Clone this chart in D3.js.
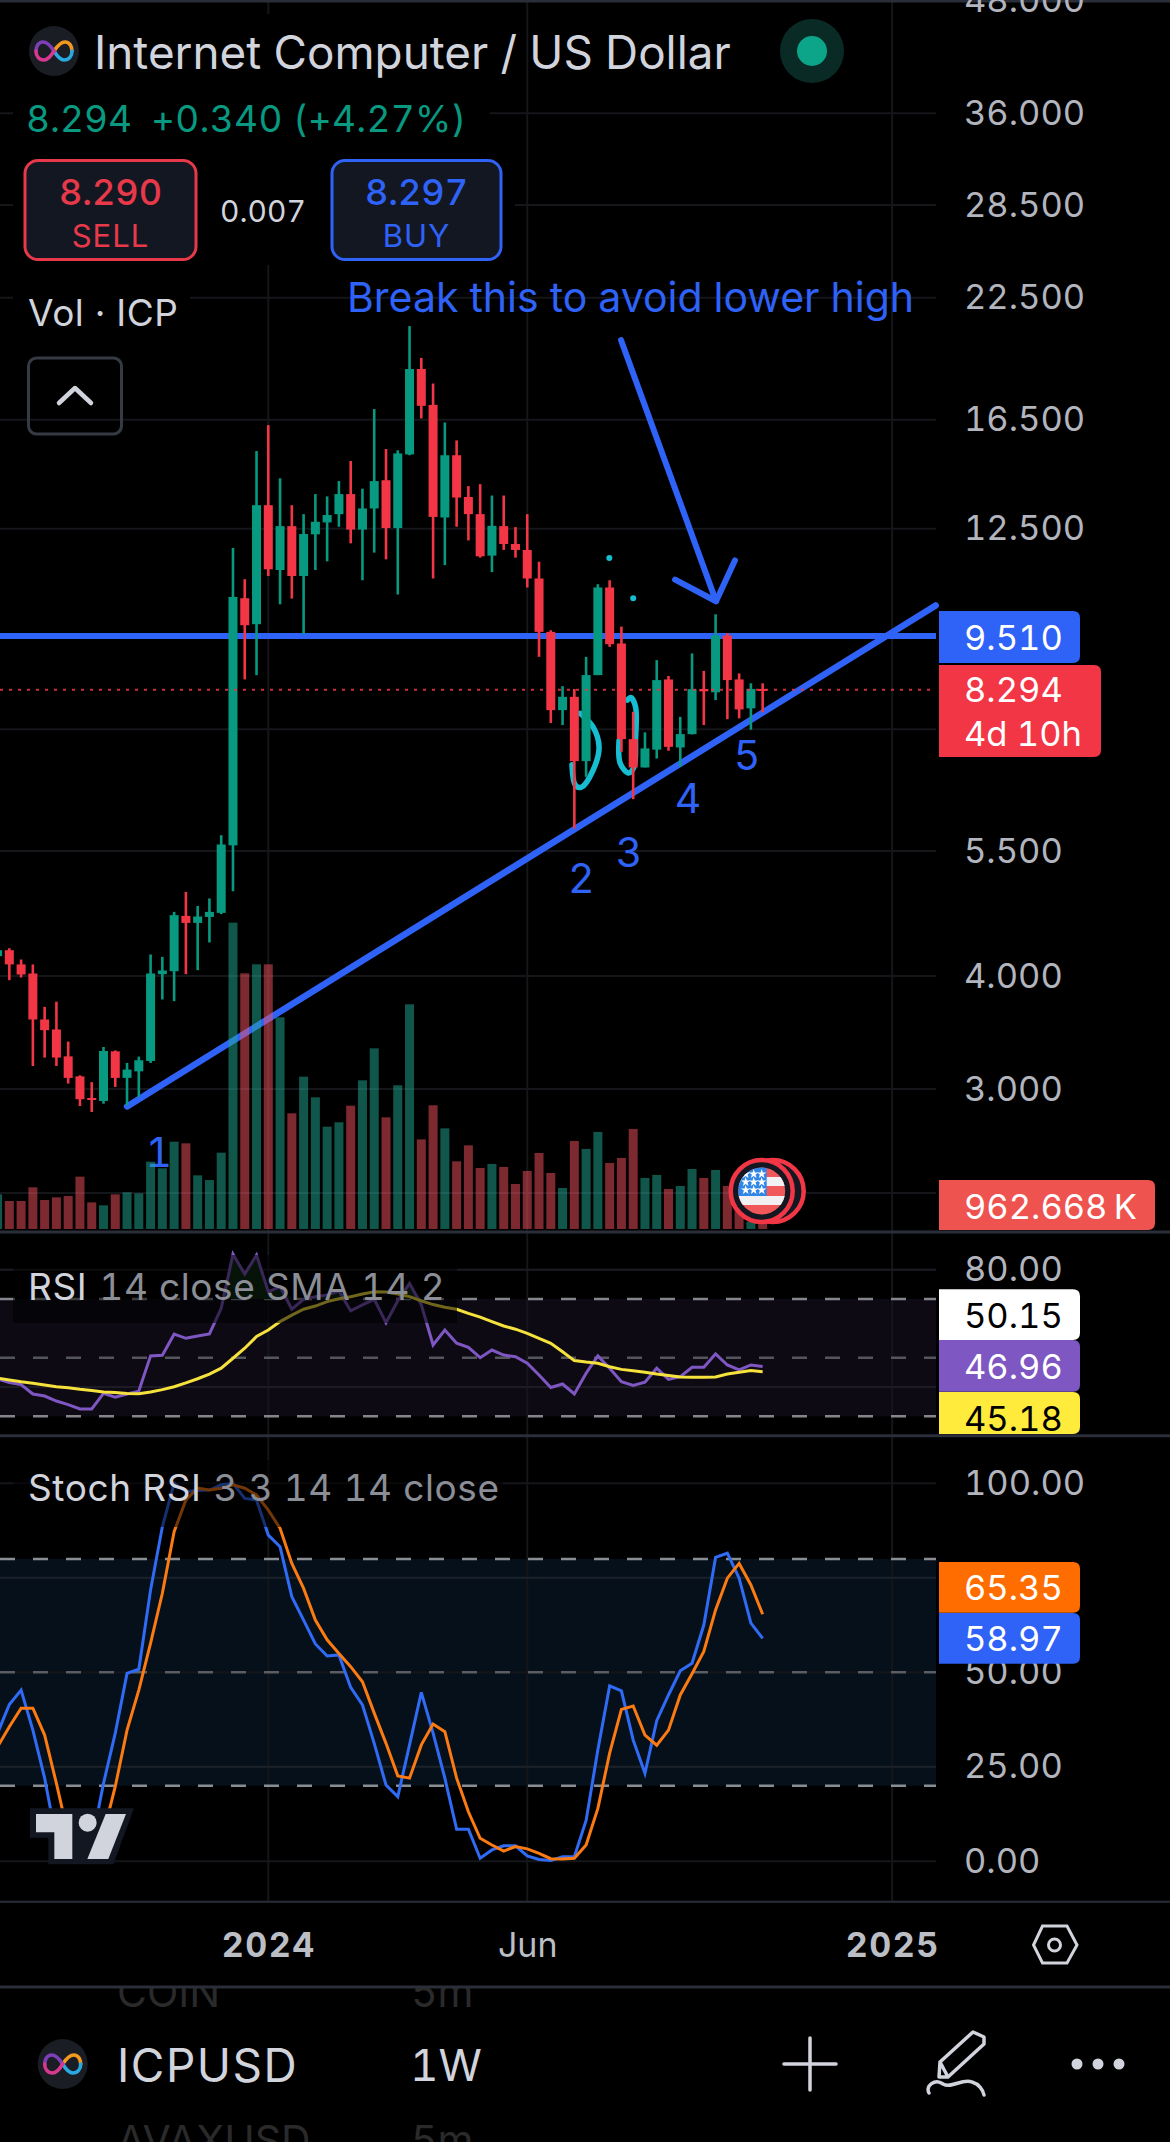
<!DOCTYPE html>
<html>
<head>
<meta charset="utf-8">
<title>ICPUSD 1W</title>
<script src="https://cdn.jsdelivr.net/npm/d3@7/dist/d3.min.js"></script>
<style>
  html, body { margin: 0; padding: 0; background: #000; }
  svg { display: block; }
  text { font-family: Inter, "Noto Sans", sans-serif; font-variant-numeric: tabular-nums; font-feature-settings: "tnum" 1; }
</style>
</head>
<body>
<svg id="chart" width="1170" height="2142"></svg>
<script>
// weekly candles, first entry is the bar cut off at the left edge
const opens = [4.208,4.272,4.12,4.026,3.581,3.491,3.26,3.098,2.932,2.91,3.302,3.086,3.138,3.222,4.019,4.05,4.662,4.58,4.65,4.698,5.58,10.47,9.8,13.27,11.25,12.58,11.08,12.32,12.7,12.97,13.65,12.47,13.16,14.14,12.52,15.1,18.77,17.13,12.86,15.07,13.55,12.97,11.67,12.58,12.02,11.84,11.01,9.61,7.874,8.145,6.915,8.608,10.76,9.33,7.313,6.804,7.12,8.514,7.16,7.407,8.31,8.24,9.52,8.514,7.91,8.31];
const highs = [4.293,4.294,4.172,4.12,3.698,3.747,3.385,3.106,3.053,3.339,3.31,3.206,3.258,4.226,4.2,4.71,4.956,4.782,4.874,5.726,11.9,10.99,15.23,16.27,14.21,13.27,12.97,13.65,13.57,14.11,14.85,13.84,16.95,15.31,15.26,20.94,19.31,18.09,16.38,15.65,13.93,14.0,13.6,13.6,12.55,12.97,11.49,9.65,8.37,8.31,9.018,10.85,10.96,9.74,7.84,7.44,8.943,8.59,7.74,9.097,8.7,10.05,9.58,8.645,8.43,8.43];
const lows = [4.165,3.958,3.985,3.181,3.25,3.181,3.042,2.873,2.829,2.89,3.016,2.878,2.94,3.206,3.768,3.752,4.019,4.06,4.357,4.683,4.965,8.514,8.608,11.08,10.31,10.46,9.545,11.25,11.5,12.56,12.04,10.96,11.76,11.56,10.57,15.07,16.55,11.01,11.39,12.56,12.13,11.61,11.19,11.84,11.61,10.76,9.018,7.62,7.58,5.825,6.643,8.608,9.25,7.08,6.276,6.804,6.96,7.1,6.815,7.4,7.58,8.077,7.695,7.71,7.49,7.83];
const closes = [4.272,4.12,4.016,3.581,3.485,3.25,3.086,2.923,2.92,3.305,3.086,3.152,3.228,4.026,4.057,4.671,4.58,4.655,4.71,5.592,10.505,9.774,13.27,11.27,12.58,11.08,12.33,12.72,12.94,13.65,12.47,13.16,14.11,12.52,15.14,18.77,17.09,12.88,15.07,13.53,12.97,11.65,12.59,12.02,11.84,11.01,9.61,7.874,8.145,6.915,8.608,10.76,9.313,7.313,6.804,7.142,8.499,7.17,7.407,8.306,8.26,9.52,8.499,7.888,8.31,8.27];
// volume in thousands
const volumes = [4815,3890,3890,5790,4030,4400,4580,7270,3700,3290,4815,5090,4950,9350,8430,12130,11900,7450,6800,10600,42550,35510,36760,36760,29400,16070,21160,18290,14210,14820,17130,20650,25090,15510,19960,31210,12450,17180,13980,9400,11620,8480,9035,8620,6255,8060,10560,7780,5700,12230,11120,13480,9170,9870,13900,7090,7510,5560,5980,8340,7090,8200,5980,3340,1000,962.668];
const rsiValues = [42.7,41.5,40.8,37.6,36.9,35.2,34.0,32.5,32.5,37.8,36.5,37.6,38.6,50.6,50.8,58.0,56.6,57.4,58.1,66.8,85.3,78.5,85.0,72.5,74.2,66.5,69.9,70.8,71.4,72.7,66.0,68.0,69.9,61.9,69.4,75.3,68.0,54.3,59.4,54.9,53.5,50.0,52.6,50.9,50.3,48.1,44.1,39.8,41.0,37.6,44.7,50.6,46.4,41.8,40.5,41.6,46.4,42.6,43.5,46.7,46.7,51.3,47.5,45.8,47.5,46.96];
const rsiSma = [43.0,42.4,41.8,41.3,40.7,40.1,39.7,39.2,38.8,38.3,38.1,37.8,37.7,38.3,39.1,40.1,41.4,42.8,44.4,46.4,49.8,53.2,57.2,59.4,62.3,64.5,66.5,67.6,69.1,70.1,70.8,71.7,72.5,72.4,71.7,70.8,69.4,68.1,67.2,66.5,65.1,63.8,62.3,60.8,59.7,58.3,56.6,54.9,52.0,49.0,48.5,48.1,46.9,46.0,45.5,45.0,44.4,43.9,43.4,43.3,43.3,43.4,44.4,45.0,45.6,45.18];
const stochK = [33.9,41.5,45.3,34.7,22.0,5.6,0.8,0.8,4.8,20.6,33.9,49.7,50.8,71.8,88.5,100,97.8,98.1,98.2,99.6,100,96,95.6,86.3,83.2,70,63.8,57.5,54.3,54.6,46,41.4,31.2,20.2,17.1,30.8,44.7,33.9,22,8.5,8.5,0.8,3,4.1,4.1,1.4,0.5,0.2,1.2,1.2,10.8,29.5,46.4,45.1,32.1,23.3,37.2,44,50.4,52.4,62.5,80.4,81.5,74.9,63,58.97];
const stochD = [30.3,35.6,40.5,40.5,33.4,20.6,7,0.8,1.7,7.4,19.8,34.7,45.3,57.7,70.9,87.2,95.6,98.7,98.2,98.7,99.6,98.7,96.9,92.9,88.1,78.8,72.2,63.8,58.6,55,51.5,47.5,39.2,31.2,22.6,22,30.8,36.3,34.3,22,13.1,6.1,4.3,2.7,3.9,3.3,2.1,0.7,0.6,0.8,4.3,14,28.6,40.2,41.1,33.4,30.7,34.7,44,49.6,55.5,66.5,74.9,78.8,73.1,65.35];

const priceTicks = [48, 36, 28.5, 22.5, 16.5, 12.5, 5.5, 4, 3];
const priceGrid = [36, 28.5, 22.5, 16.5, 12.5, 7.5, 5.5, 4, 3];
const rsiTicks = [80];
const rsiGrid = [80, 40];
const stochTicks = [100, 50, 25, 0];
const timeWeeks = [22, 44, 75];
const timeLabels = ["2024", "Jun", "2025"];

// user drawings as [week, price]
const levelLine = 9.51;
const trendLine = [[10, 2.87], [78.7, 10.28]];
const arrowShaft = [[51.97, 20.2], [60.04, 10.39]];
const arrowHead = [[56.56, 10.98], [60.04, 10.39], [61.65, 11.53]];
const waveLabels = ["1", "2", "3", "4", "5"];
const waveWeeks = [12.7, 48.6, 52.65, 57.66, 62.67];
const wavePrices = [2.553, 5.13, 5.484, 6.297, 7.02];
const scribbleA = [[48.5,7.81],[49.6,7.54],[50.1,7.17],[49.6,6.76],[48.6,6.47],[48.1,6.5],[47.8,6.85]];
const scribbleB = [[51.8,7.295],[51.9,6.874],[52.6,6.71],[53.07,6.815],[53.2,7.295],[53.2,7.94],[52.8,8.13],[52.5,8.077]];
const scribbleDots = [[50.97,11.6],[53,10.47]];

const chartRight = 936, volBase = 1229;
const UP = "#089981", DOWN = "#f23645", BLUE = "#2f62f7", GRID = "#15161a", AXIS = "#b2b5be", LIGHT = "#d1d4dc";

const weeks = opens.map((d, i) => i - 1);
const svg = d3.select("#chart");

const x = d3.scaleLinear().domain([0, 64]).range([9.33, 762.67]);
const yPrice = d3.scaleLog().domain([36, 3]).range([113.3, 1089]);
const yVol = d3.scaleLinear().domain([0, 5000]).range([volBase, 1193]);
const yRsi = d3.scaleLinear().domain([30, 70]).range([1416.3, 1299]);
const yStoch = d3.scaleLinear().domain([0, 100]).range([1861.3, 1483.3]);

svg.append("rect").attr("width", 1170).attr("height", 2142).attr("fill", "#000");

function label(parent, str, px, py, size, fill, anchor, weight, spacing) {
    return parent.append("text")
        .attr("x", px).attr("y", py)
        .attr("font-size", size)
        .attr("fill", fill)
        .attr("text-anchor", anchor || "start")
        .attr("font-weight", weight || 400)
        .attr("letter-spacing", spacing || 0)
        .attr("dominant-baseline", "central")
        .text(str);
}

// ghost rows of the watchlist behind the toolbar
const ghost = svg.append("g").attr("fill", "#2a2a2b").attr("font-size", 41);
ghost.append("text").attr("x", 117).attr("y", 2007).text("COIN");
ghost.append("text").attr("x", 411).attr("y", 2007).text("5m");
ghost.append("text").attr("x", 117).attr("y", 2155).text("AVAXUSD");
ghost.append("text").attr("x", 411).attr("y", 2155).text("5m");
svg.append("rect").attr("x", 0).attr("y", 1902).attr("width", 1170).attr("height", 84).attr("fill", "#000");
svg.append("rect").attr("x", 346).attr("y", 2110).attr("width", 50).attr("height", 32).attr("fill", "#000");

// indicator bands
svg.append("rect").attr("x", 0).attr("y", yRsi(70)).attr("width", chartRight).attr("height", yRsi(30) - yRsi(70)).attr("fill", "#0d0a14");
svg.append("rect").attr("x", 0).attr("y", yStoch(80)).attr("width", chartRight).attr("height", yStoch(20) - yStoch(80)).attr("fill", "#06101a");

// grid
const grid = svg.append("g").attr("stroke", GRID).attr("stroke-width", 2);
timeWeeks.forEach(w => grid.append("line").attr("x1", x(w)).attr("x2", x(w)).attr("y1", 0).attr("y2", 1902));
priceGrid.forEach(v => grid.append("line").attr("x1", 0).attr("x2", chartRight).attr("y1", yPrice(v)).attr("y2", yPrice(v)));
grid.append("line").attr("x1", 0).attr("x2", chartRight).attr("y1", yVol(5000)).attr("y2", yVol(5000));
rsiGrid.forEach(v => grid.append("line").attr("x1", 0).attr("x2", chartRight).attr("y1", yRsi(v)).attr("y2", yRsi(v)).attr("stroke", "#1d1c24"));
stochTicks.forEach(v => grid.append("line").attr("x1", 0).attr("x2", chartRight).attr("y1", yStoch(v)).attr("y2", yStoch(v)));
grid.append("line").attr("x1", 0).attr("x2", chartRight).attr("y1", yStoch(75)).attr("y2", yStoch(75)).attr("stroke", "#1b222b");
grid.append("line").attr("x1", 0).attr("x2", chartRight).attr("y1", yStoch(25)).attr("y2", yStoch(25)).attr("stroke", "#1b222b");

// dashed indicator levels
function dashed(yy, color) {
    svg.append("line").attr("x1", 0).attr("x2", chartRight).attr("y1", yy).attr("y2", yy)
        .attr("stroke", color).attr("stroke-width", 2.5).attr("stroke-dasharray", "15 18");
}
dashed(yRsi(70), "#85858c"); dashed(yRsi(50), "#55555c"); dashed(yRsi(30), "#85858c");
dashed(yStoch(80), "#8a8d92"); dashed(yStoch(50), "#5a5e64"); dashed(yStoch(20), "#8a8d92");

// black backing behind the header legend
svg.append("rect").attr("x", 13).attr("y", 14).attr("width", 477).attr("height", 126).attr("fill", "#000");
svg.append("rect").attr("x", 13).attr("y", 140).attr("width", 502).attr("height", 125).attr("fill", "#000");
svg.append("rect").attr("x", 13).attr("y", 280).attr("width", 177).attr("height", 60).attr("fill", "#000");

// drawings that sit under the candles
const linePx = d3.line().x(d => x(d[0])).y(d => yPrice(d[1]));
svg.append("path").attr("d", d3.line().curve(d3.curveCatmullRom)
        .x(d => x(d[0])).y(d => yPrice(d[1]))(scribbleA))
    .attr("fill", "none").attr("stroke", "#17bdd0").attr("stroke-width", 5.5).attr("stroke-linecap", "round");
svg.append("path").attr("d", d3.line().curve(d3.curveCatmullRom)
        .x(d => x(d[0])).y(d => yPrice(d[1]))(scribbleB))
    .attr("fill", "none").attr("stroke", "#17bdd0").attr("stroke-width", 5.5).attr("stroke-linecap", "round");
svg.selectAll(".sdot").data(scribbleDots).enter().append("circle")
    .attr("cx", d => x(d[0])).attr("cy", d => yPrice(d[1])).attr("r", 3).attr("fill", "#17bdd0");

svg.append("line").attr("x1", 0).attr("x2", chartRight).attr("y1", yPrice(levelLine)).attr("y2", yPrice(levelLine))
    .attr("stroke", BLUE).attr("stroke-width", 6);
svg.append("path").attr("d", linePx(trendLine)).attr("fill", "none").attr("stroke", BLUE)
    .attr("stroke-width", 6.5).attr("stroke-linecap", "round");

// wave numbers
waveLabels.forEach((t, i) => {
    label(svg, t, x(waveWeeks[i]), yPrice(wavePrices[i]), 41, BLUE, "middle");
});

// volume
svg.append("g").selectAll("rect").data(weeks).enter().append("rect")
    .attr("x", d => x(d) - 4.5)
    .attr("width", 9)
    .attr("y", (d, i) => yVol(volumes[i]))
    .attr("height", (d, i) => volBase - yVol(volumes[i]))
    .attr("fill", (d, i) => closes[i] >= opens[i] ? "rgba(34,171,148,.5)" : "rgba(247,82,95,.5)");

// candles
const candles = svg.append("g");
candles.selectAll("line").data(weeks).enter().append("line")
    .attr("x1", d => x(d)).attr("x2", d => x(d))
    .attr("y1", (d, i) => yPrice(highs[i]))
    .attr("y2", (d, i) => yPrice(lows[i]))
    .attr("stroke", (d, i) => closes[i] >= opens[i] ? UP : DOWN)
    .attr("stroke-width", 2.6);
candles.selectAll("rect").data(weeks).enter().append("rect")
    .attr("x", d => x(d) - 4.5)
    .attr("width", 9)
    .attr("y", (d, i) => yPrice(Math.max(opens[i], closes[i])))
    .attr("height", (d, i) => Math.max(2, Math.abs(yPrice(opens[i]) - yPrice(closes[i]))))
    .attr("fill", (d, i) => closes[i] >= opens[i] ? UP : DOWN);

// last price dotted line
svg.append("line").attr("x1", 0).attr("x2", chartRight).attr("y1", yPrice(8.294)).attr("y2", yPrice(8.294))
    .attr("stroke", DOWN).attr("stroke-width", 2).attr("stroke-dasharray", "3 6").attr("opacity", .85);

// arrow and note
svg.append("path").attr("d", linePx(arrowShaft)).attr("fill", "none").attr("stroke", BLUE).attr("stroke-width", 6).attr("stroke-linecap", "round");
svg.append("path").attr("d", linePx(arrowHead)).attr("fill", "none").attr("stroke", BLUE).attr("stroke-width", 6).attr("stroke-linecap", "round").attr("stroke-linejoin", "round");
label(svg, "Break this to avoid lower high", 347, 297, 41, BLUE);

// flags on the volume pane
function flag(cx, cy) {
    const defs = svg.append("defs");
    defs.append("clipPath").attr("id", "flagClip").append("circle").attr("cx", cx).attr("cy", cy).attr("r", 23.5);
    svg.append("circle").attr("cx", cx + 11).attr("cy", cy).attr("r", 31).attr("fill", "#131722").attr("stroke", "#f23645").attr("stroke-width", 4.5);
    svg.append("circle").attr("cx", cx).attr("cy", cy).attr("r", 31).attr("fill", "#131722").attr("stroke", "#f23645").attr("stroke-width", 4.5);
    const g = svg.append("g").attr("clip-path", "url(#flagClip)");
    g.append("rect").attr("x", cx - 24).attr("y", cy - 24).attr("width", 48).attr("height", 48).attr("fill", "#f0585a");
    g.append("rect").attr("x", cx - 24).attr("y", cy - 14).attr("width", 48).attr("height", 9).attr("fill", "#f1f1f4");
    g.append("rect").attr("x", cx - 24).attr("y", cy + 5).attr("width", 48).attr("height", 9).attr("fill", "#f1f1f4");
    g.append("rect").attr("x", cx - 24).attr("y", cy - 24).attr("width", 29).attr("height", 29).attr("fill", "#2f86e6");
    [-15, -7, 1].forEach(sx => [-17, -9, -1].forEach(sy => {
        g.append("path").attr("transform", "translate(" + (cx + sx - 1) + "," + (cy + sy) + ")")
            .attr("d", d3.symbol(d3.symbolStar, 28)()).attr("fill", "#fff");
    }));
}
flag(761.7, 1191);

// RSI pane
const rsiLine = d3.line().x((d, i) => x(i - 1)).y(d => yRsi(d));
svg.append("path").datum(rsiValues)
    .attr("d", d3.area().x((d, i) => x(i - 1)).y0(yRsi(70)).y1(d => yRsi(Math.max(d, 70))))
    .attr("fill", "#0d2a15");
svg.append("path").attr("d", rsiLine(rsiValues)).attr("fill", "none").attr("stroke", "#7e57c2").attr("stroke-width", 3);
svg.append("path").attr("d", rsiLine(rsiSma)).attr("fill", "none").attr("stroke", "#f5e23c").attr("stroke-width", 3);
svg.append("rect").attr("x", 13).attr("y", 1255).attr("width", 444).attr("height", 68).attr("fill", "rgba(0,0,0,.55)");

// Stoch RSI pane
const stochLine = d3.line().x((d, i) => x(i - 1)).y(d => yStoch(d));
svg.append("path").attr("d", stochLine(stochK)).attr("fill", "none").attr("stroke", "#2f6bf5").attr("stroke-width", 3);
svg.append("path").attr("d", stochLine(stochD)).attr("fill", "none").attr("stroke", "#fb7a12").attr("stroke-width", 3);
svg.append("rect").attr("x", 13).attr("y", 1460).attr("width", 490).attr("height", 67).attr("fill", "rgba(0,0,0,.55)");

// TradingView mark
const tv = svg.append("g").attr("transform", "translate(0,1450) scale(.3333)");
tv.append("path").attr("d", "M90 1075H402L340 1243H145V1163H90Z").attr("fill", "#131722");
tv.append("path").attr("d", "M108 1092H217V1227H163V1147H108Z").attr("fill", LIGHT);
tv.append("circle").attr("cx", 263).attr("cy", 1118).attr("r", 27).attr("fill", LIGHT);
tv.append("path").attr("d", "M317 1092H378L325 1227H262Z").attr("fill", LIGHT);

// pane separators
const sep = svg.append("g").attr("stroke", "#2a2e39");
[[0, 1232, 3], [0, 1435.7, 3], [0, 1901.7, 2], [0, 1987, 3], [0, 1, 3]].forEach(s => {
    sep.append("line").attr("x1", s[0]).attr("x2", 1170).attr("y1", s[1]).attr("y2", s[1]).attr("stroke-width", s[2]);
});

// axes
function styleAxis(g) {
    g.select(".domain").remove();
    g.selectAll("line").remove();
    g.selectAll("text").attr("fill", AXIS).attr("font-size", 34.5).attr("font-family", "Inter");
}
svg.append("g").attr("transform", "translate(964,0)")
    .call(d3.axisRight(yPrice).tickValues(priceTicks).tickFormat(d3.format(".3f")).tickSize(0).tickPadding(0)).call(styleAxis);
svg.append("g").attr("transform", "translate(964,0)")
    .call(d3.axisRight(yRsi).tickValues(rsiTicks).tickFormat(d3.format(".2f")).tickSize(0).tickPadding(0)).call(styleAxis);
svg.append("g").attr("transform", "translate(964,0)")
    .call(d3.axisRight(yStoch).tickValues(stochTicks).tickFormat(d3.format(".2f")).tickSize(0).tickPadding(0)).call(styleAxis);
svg.append("g").attr("transform", "translate(0,1945)")
    .call(d3.axisBottom(x).tickValues(timeWeeks).tickFormat((d, i) => timeLabels[i]).tickSize(0).tickPadding(0)).call(styleAxis)
    .selectAll("text").attr("dy", ".35em").attr("y", 0)
    .attr("font-size", 34).attr("font-weight", (d, i) => i === 1 ? 400 : 700)
    .attr("letter-spacing", (d, i) => i === 1 ? 0 : 1.5).attr("fill", "#bcbec6");

// value tags on the axis
function tag(x0, y0, w, h, fill, lines, textFill) {
    svg.append("path").attr("fill", fill)
        .attr("d", "M" + x0 + " " + y0 + "H" + (x0 + w - 7) + "Q" + (x0 + w) + " " + y0 + " " + (x0 + w) + " " + (y0 + 7)
            + "V" + (y0 + h - 7) + "Q" + (x0 + w) + " " + (y0 + h) + " " + (x0 + w - 7) + " " + (y0 + h) + "H" + x0 + "Z");
    lines.forEach(l => label(svg, l[0], 964, l[1], 34.5, textFill));
}
tag(939, 1180, 216, 50, "#ef5350", [["962.668\u2009K", 1206]], "#fff");
tag(939, 611, 141, 52, "#2f62f7", [["9.510", 637]], "#fff");
tag(939, 665, 162, 92, "#f23645", [["8.294", 689], ["4d 10h", 733]], "#fff");
tag(939, 1289.3, 141, 50.7, "#fff", [["50.15", 1315]], "#000");
tag(939, 1340, 141, 51.7, "#7e57c2", [["46.96", 1366]], "#fff");
tag(939, 1392, 141, 42, "#ffeb3b", [["45.18", 1418]], "#000");
tag(939, 1562, 141, 50.7, "#ff6d00", [["65.35", 1587.7]], "#fff");
tag(939, 1613, 141, 50.7, "#2f62f7", [["58.97", 1638]], "#fff");

// infinity mark
function icpLogo(cx, cy, r) {
    svg.append("circle").attr("cx", cx).attr("cy", cy).attr("r", r).attr("fill", "#1a1d24");
    const g = svg.append("g").attr("transform", "translate(" + cx + "," + cy + ")").attr("fill", "none").attr("stroke-width", 3.6).attr("stroke-linecap", "round");
    g.append("path").attr("d", "M0 0C4 -6 7 -9 11 -9C16 -9 18 -4 18 0").attr("stroke", "#f29a1f");
    g.append("path").attr("d", "M18 0C18 5 15 9 10 9C6 9 3 5 0 0").attr("stroke", "#2aa9e0");
    g.append("path").attr("d", "M0 0C-4 -6 -7 -9 -11 -9C-16 -9 -18 -4 -18 0").attr("stroke", "#7c3fb5");
    g.append("path").attr("d", "M-18 0C-18 5 -15 9 -10 9C-6 9 -3 5 0 0").attr("stroke", "#d6398f");
}

// header
icpLogo(54, 51, 25);
label(svg, "Internet Computer / US Dollar", 94, 52, 45.8, LIGHT);
svg.append("circle").attr("cx", 812).attr("cy", 51).attr("r", 32).attr("fill", "#0a2a25");
svg.append("circle").attr("cx", 812).attr("cy", 51).attr("r", 15).attr("fill", "#0ca58a");
label(svg, "8.294", 26, 118, 37, UP);
label(svg, "+0.340 (+4.27%)", 151, 118, 37, UP, null, null, 0.3);

function quote(x0, w, color, price, side) {
    svg.append("rect").attr("x", x0).attr("y", 160.5).attr("width", w).attr("height", 99).attr("rx", 13)
        .attr("fill", "#131722").attr("stroke", color).attr("stroke-width", 3);
    label(svg, price, x0 + w / 2, 192, 36, color, "middle", 500);
    label(svg, side, x0 + w / 2, 235, 31, color, "middle", 400, 1);
}
quote(25, 171, "#e8394a", "8.290", "SELL");
quote(332, 169, "#2f62f7", "8.297", "BUY");
label(svg, "0.007", 263, 211, 30, LIGHT, "middle");

label(svg, "Vol · ICP", 28, 312, 37, LIGHT, null, null, 0.5);
svg.append("rect").attr("x", 28.5).attr("y", 358).attr("width", 93).attr("height", 76).attr("rx", 8).attr("fill", "none").attr("stroke", "#363a45").attr("stroke-width", 3);
svg.append("path").attr("d", "M59 403L75 388L91 403").attr("fill", "none").attr("stroke", LIGHT).attr("stroke-width", 4.5).attr("stroke-linecap", "round").attr("stroke-linejoin", "round");

// pane legends
const rsiText = label(svg, "RSI", 28, 1286, 37, "#d1d4dc", null, null, 0.6);
rsiText.append("tspan").attr("dx", 12).attr("fill", "#8b8e96").text("14 close SMA 14 2");
const stochText = label(svg, "Stoch RSI", 28, 1487, 37, "#d1d4dc", null, null, 0.6);
stochText.append("tspan").attr("dx", 12).attr("fill", "#8b8e96").text("3 3 14 14 close");

// settings hexagon on the time axis
svg.append("path").attr("d", "M1042.5 1926H1067L1077 1945L1067 1963H1042.5L1033.5 1945Z").attr("fill", "none").attr("stroke", LIGHT).attr("stroke-width", 3);
svg.append("circle").attr("cx", 1054.5).attr("cy", 1945).attr("r", 6).attr("fill", "none").attr("stroke", LIGHT).attr("stroke-width", 3);

// bottom toolbar
icpLogo(62.7, 2064, 25);
label(svg, "ICPUSD", 117, 2065, 46, LIGHT, null, null, 1.5);
label(svg, "1W", 410, 2065, 44, LIGHT);
svg.append("path").attr("d", "M784 2064H836M810 2038V2090").attr("stroke", LIGHT).attr("stroke-width", 3.5).attr("stroke-linecap", "round");
svg.append("path").attr("d", "M939 2077L940 2062L973 2032L984 2037V2044L948 2077ZM940 2062L948 2077M929 2093C925 2086 935 2078 943 2084C952 2089 962 2078 972 2082C979 2084 983 2090 984 2095")
    .attr("fill", "none").attr("stroke", LIGHT).attr("stroke-width", 3.5).attr("stroke-linejoin", "round").attr("stroke-linecap", "round");
[1077, 1098, 1119].forEach(c => svg.append("circle").attr("cx", c).attr("cy", 2064).attr("r", 5.5).attr("fill", LIGHT));
</script>
</body>
</html>
